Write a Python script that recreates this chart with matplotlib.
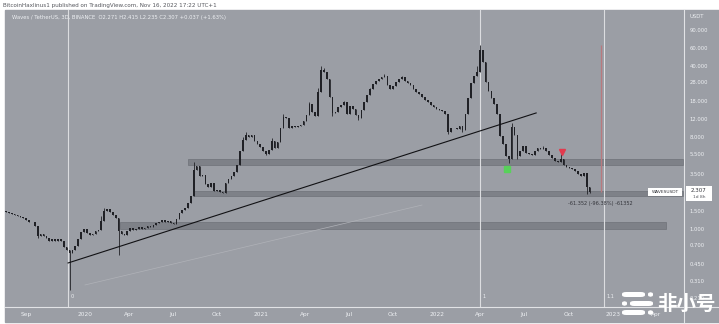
import matplotlib
matplotlib.use('Agg')
import matplotlib.pyplot as plt
import matplotlib.dates as mdates
from matplotlib.patches import Rectangle, FancyBboxPatch
from matplotlib.ticker import NullLocator, FixedLocator, FixedFormatter
import pandas as pd

# ---- data (6-day steps, USDT) ----
start_date = '2019-07-21'
closes = [
    1.48, 1.45, 1.40, 1.38, 1.33, 1.30, 1.27, 1.22, 1.18, 1.16,
    1.08, 0.86, 0.90, 0.86, 0.82, 0.76, 0.80, 0.77, 0.79, 0.76,
    0.66, 0.62, 0.58, 0.62, 0.68, 0.80, 0.94, 1.00, 0.92, 0.87,
    0.90, 0.95, 0.98, 1.20, 1.50, 1.56, 1.46, 1.38, 1.28, 0.95,
    0.90, 0.88, 0.96, 1.02, 0.98, 1.01, 1.04, 1.00, 1.03, 1.06,
    1.05, 1.09, 1.14, 1.18, 1.22, 1.17, 1.20, 1.15, 1.12, 1.25,
    1.45, 1.52, 1.62, 1.80, 2.10, 3.80, 4.20, 3.30, 3.39, 2.75,
    2.60, 2.80, 2.35, 2.42, 2.33, 2.26, 2.85, 3.10, 3.35, 3.60,
    4.30, 5.80, 7.50, 8.30, 8.00, 8.40, 7.40, 6.90, 6.40, 5.90,
    5.50, 6.00, 7.40, 6.30, 7.20, 9.80, 12.60, 12.20, 9.90, 10.20,
    10.00, 10.30, 10.60, 11.50, 13.20, 16.80, 14.00, 13.00, 22.00, 36.50,
    34.50, 30.00, 20.00, 13.80, 14.20, 15.80, 16.50, 17.50, 13.40, 16.20,
    15.00, 13.20, 12.40, 14.80, 17.50, 20.60, 23.50, 26.50, 28.50, 29.50,
    31.00, 32.00, 26.00, 23.50, 25.50, 28.00, 30.00, 31.00, 28.50, 27.00,
    25.80, 23.50, 22.00, 21.00, 20.00, 18.50, 17.50, 16.50, 15.80, 15.20,
    14.80, 14.50, 13.50, 9.00, 9.80, 9.90, 9.50, 10.20, 9.30, 13.50,
    19.50, 27.00, 32.00, 35.00, 57.00, 44.00, 28.00, 22.50, 19.50, 17.00,
    13.50, 8.20, 6.80, 5.20, 4.90, 10.00, 8.30, 5.20, 5.80, 6.50,
    5.60, 5.40, 5.30, 5.90, 6.20, 6.10, 6.30, 5.90, 5.30, 4.95,
    4.70, 4.55, 4.90, 4.30, 4.05, 4.00, 3.90, 3.75, 3.50, 3.35,
    3.55, 2.60, 2.307,
]
first_open = 1.50
spike_highs = {33: 1.35, 34: 1.62, 65: 4.6, 82: 8.0, 83: 8.9, 92: 7.8, 96: 13.5,
               105: 17.5, 108: 24.0, 109: 40.0, 110: 38.0, 117: 18.2, 126: 24.5,
               131: 33.5, 137: 32.0, 163: 40.0, 164: 63.659, 175: 11.0, 186: 6.6,
               192: 5.4}
spike_lows = {11: 0.82, 22: 0.25, 39: 0.56, 90: 5.3, 113: 12.8, 122: 11.9,
              153: 8.6, 158: 9.0, 174: 4.4, 177: 4.9, 201: 2.2, 202: 2.235}

price_ticks = [0.21, 0.31, 0.45, 0.7, 1.0, 1.5, 3.5, 5.5, 8, 12, 18, 28, 40, 60, 90]
date_ticks = ['2019-09-01', '2020-01-01', '2020-04-01', '2020-07-01', '2020-10-01',
              '2021-01-01', '2021-04-01', '2021-07-01', '2021-10-01', '2022-01-01',
              '2022-04-01', '2022-07-01', '2022-10-01', '2023-01-01', '2023-04-01']
date_labels = ['Sep', '2020', 'Apr', 'Jul', 'Oct', '2021', 'Apr', 'Jul', 'Oct',
               '2022', 'Apr', 'Jul', 'Oct', '2023', 'Apr']

# horizontal zones: (low, high, from, to)
zones = [(4.25, 4.82, '2020-08-02', '2023-05-27'),
         (2.13, 2.36, '2020-08-12', '2023-05-27'),
         (1.00, 1.17, '2020-03-14', '2023-04-22')]
trend_pts = (('2019-11-27', 0.464), ('2022-07-26', 13.8))
faint_pts = (('2020-01-01', 0.282), ('2021-12-01', 1.72))
vlines_white = ['2019-11-27', '2022-03-31', '2022-12-14']
vline_tags = ['0', '1', '1.1']
range_date = '2022-12-07'
peak_price, last_price = 63.659, 2.307
buy_mark = ('2022-05-26', 3.88)
sell_mark = ('2022-09-17', 5.71)

W, H = 719, 324
bg = '#9b9ea5'
dark = '#202126'
light = '#eef0f3'


def fx(x):
    return x / W


def fy(y):
    return 1 - y / H


def d(s):
    return mdates.date2num(pd.Timestamp(s))


fig = plt.figure(figsize=(W / 100, H / 100), dpi=100)
fig.patch.set_facecolor('white')
fig.patches.append(Rectangle((fx(5), fy(322)), fx(719) - fx(5), fy(10) - fy(322),
                             transform=fig.transFigure, color=bg, zorder=-10))

ax = fig.add_axes([fx(5), fy(307), fx(684) - fx(5), fy(10) - fy(307)])
ax.set_zorder(1)
ax.set_facecolor(bg)
ax.set_yscale('log')
ax.set_xlim(d('2020-01-01') - 166, d('2020-01-01') + 1244)
ax.set_ylim(0.1714, 141.6)
for s in ax.spines.values():
    s.set_visible(False)

# zones
for lo, hi, a, b in zones:
    ax.add_patch(Rectangle((d(a), lo), d(b) - d(a), hi - lo, facecolor='#7e8188',
                           edgecolor='#74777e', lw=0.6, zorder=1))

# white vertical lines
for v, tag in zip(vlines_white, vline_tags):
    ax.axvline(d(v), color='#dcdde0', lw=0.8, zorder=2)
    ax.text(d(v) + 5, 0.205, tag, fontsize=3.6, color=light, va='bottom', zorder=6)

# faint + main trendline
ax.plot([d(faint_pts[0][0]), d(faint_pts[1][0])], [faint_pts[0][1], faint_pts[1][1]],
        color='#b0b2b8', lw=0.5, zorder=2)
ax.plot([d(trend_pts[0][0]), d(trend_pts[1][0])], [trend_pts[0][1], trend_pts[1][1]],
        color='#111114', lw=0.8, zorder=4)

# candles
dates = pd.date_range(start_date, periods=len(closes), freq='6D')
xs = mdates.date2num(dates)
opens = [first_open] + closes[:-1]
highs = [spike_highs.get(i, max(o, c)) for i, (o, c) in enumerate(zip(opens, closes))]
lows = [spike_lows.get(i, min(o, c)) for i, (o, c) in enumerate(zip(opens, closes))]
ax.vlines(xs, lows, highs, color=dark, lw=0.6, zorder=3)
bottoms = [min(o, c) for o, c in zip(opens, closes)]
heights = [abs(c - o) for o, c in zip(opens, closes)]
ax.bar(xs, heights, bottom=bottoms, width=3.4, color=dark, lw=0, zorder=3)

# price range tool
ax.vlines(d(range_date), last_price, peak_price, color='#b9797e', lw=0.9, zorder=2)
ax.text(d(range_date), 1.80, '-61.352 (-96.38%) -61352', fontsize=3.6,
        color='#34353b', ha='center', va='center', zorder=6)

# signals
ax.plot(d(buy_mark[0]), buy_mark[1], marker='s', ms=4, color='#58d15a', zorder=6)
ax.plot(d(sell_mark[0]), sell_mark[1], marker='v', ms=4.5, color='#e23a4e', zorder=6)

# axes ticks
ax.yaxis.tick_right()
ax.yaxis.set_minor_locator(NullLocator())
ax.yaxis.set_major_locator(FixedLocator(price_ticks))
ax.yaxis.set_major_formatter(FixedFormatter(['%.3f' % p for p in price_ticks]))
ax.tick_params(axis='y', length=0, pad=4, labelsize=3.8, labelcolor=light)
ax.xaxis.set_major_locator(FixedLocator([d(t) for t in date_ticks]))
ax.xaxis.set_major_formatter(FixedFormatter(date_labels))
ax.tick_params(axis='x', length=0, pad=3.5, labelsize=4.2, labelcolor=light)

# separators
fig.add_artist(plt.Line2D([fx(684), fx(684)], [fy(10), fy(322)], color='#e2e3e6', lw=0.8, zorder=3))
fig.add_artist(plt.Line2D([fx(5), fx(719)], [fy(307), fy(307)], color='#e2e3e6', lw=0.8, zorder=3))

# header & legend
fig.text(fx(3), fy(5), 'BitcoinHaxlinus1 published on TradingView.com, Nov 16, 2022 17:22 UTC+1',
         fontsize=4.1, color='#55575d', va='center', ha='left')
fig.text(fx(12), fy(18), 'Waves / TetherUS, 3D, BINANCE  O2.271 H2.415 L2.235 C2.307 +0.037 (+1.63%)',
         fontsize=3.8, color=light, va='center', ha='left', zorder=5)
fig.text(fx(689), fy(16), 'USDT', fontsize=3.8, color=light, va='center', ha='left', zorder=5)

# last price labels
fig.patches.append(Rectangle((fx(648), fy(196)), fx(682) - fx(648), fy(188) - fy(196),
                             transform=fig.transFigure, facecolor='white', edgecolor='none', zorder=5))
fig.text(fx(665), fy(192), 'WAVESUSDT', fontsize=3.2, color='#33343a', ha='center', va='center', zorder=6)
fig.patches.append(Rectangle((fx(686), fy(201)), fx(712) - fx(686), fy(186) - fy(201),
                             transform=fig.transFigure, facecolor='white', edgecolor='none', zorder=5))
fig.text(fx(699), fy(190.5), '2.307', fontsize=4.0, color='#33343a', ha='center', va='center', zorder=6)
fig.text(fx(699), fy(197), '1d 8h', fontsize=3.2, color='#55575d', ha='center', va='center', zorder=6)

# watermark
for x0, x1, y0 in [(622, 645, 292), (648, 653, 292), (622, 627, 301), (630, 653, 301),
                   (622, 645, 310), (648, 653, 310)]:
    fig.patches.append(FancyBboxPatch((fx(x0), fy(y0 + 5)), fx(x1) - fx(x0), fy(y0) - fy(y0 + 5),
                                      boxstyle='round,pad=0,rounding_size=0.006',
                                      transform=fig.transFigure, facecolor='white',
                                      edgecolor='none', zorder=7))
fig.text(fx(686), fy(304), '非小号', fontsize=14, fontweight='bold', color='white',
         family=['Noto Sans CJK SC', 'DejaVu Sans'], ha='center', va='center', zorder=8)

fig.savefig('out.png', dpi=100, facecolor=fig.get_facecolor())
